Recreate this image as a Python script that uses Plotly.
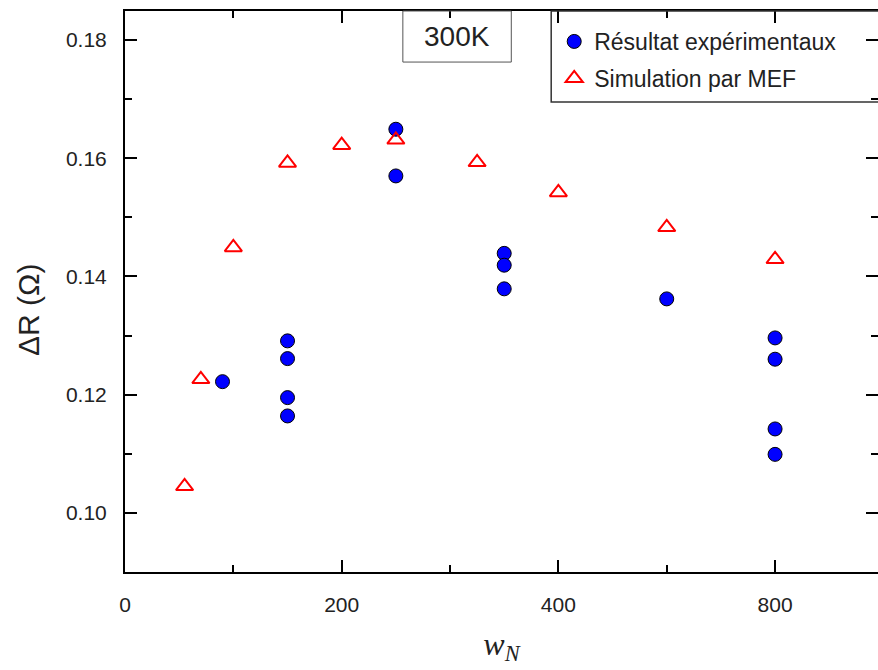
import plotly.graph_objects as go

# ---- data ----
exp_w = [90, 150, 150, 150, 150, 250, 250, 350, 350, 350, 500, 800, 800, 800, 800]
exp_dr = [0.1222, 0.1291, 0.1261, 0.1195, 0.1164, 0.1649, 0.1570,
          0.1439, 0.1419, 0.1379, 0.1362, 0.1296, 0.1260, 0.1142, 0.1099]

sim_w = [55, 70, 100, 150, 200, 250, 325, 400, 500, 800]
sim_dr = [0.1045, 0.1226, 0.1449, 0.1592, 0.1622, 0.1631, 0.1593, 0.1542, 0.1483, 0.1429]

x_tick_vals = [0, 200, 400, 800]
x_minor_vals = [100, 300, 500]

# broken x axis: the value 800 is drawn at the 600 position
BREAK_FROM, BREAK_TO = 800, 600
def pos(v):
    return BREAK_TO if v == BREAK_FROM else v

FONT = "Liberation Sans, Arial, sans-serif"

fig = go.Figure()
fig.add_trace(go.Scatter(
    x=[pos(v) for v in exp_w], y=exp_dr, mode="markers",
    name="Résultat expérimentaux", legendgroup="exp",
    marker=dict(symbol="circle", size=14, color="#0000ff",
                line=dict(color="#000000", width=1)),
))
fig.add_trace(go.Scatter(
    x=[pos(v) for v in sim_w], y=sim_dr, mode="markers",
    name="Simulation par MEF", legendgroup="sim",
    marker=dict(symbol="triangle-up-open", size=15, color="#ff0000",
                line=dict(color="#ff0000", width=2)),
))

axis_common = dict(
    showline=True, linecolor="#000000", linewidth=2, mirror="ticks",
    ticks="inside", ticklen=12, tickwidth=2, tickcolor="#000000",
    showgrid=False, zeroline=False, automargin=False,
    tickfont=dict(family=FONT, size=21, color="#222222"),
)

fig.update_xaxes(
    range=[0, 695],
    tickvals=[pos(v) for v in x_tick_vals],
    ticktext=[str(v) for v in x_tick_vals],
    minor=dict(tickvals=x_minor_vals, ticks="inside", ticklen=7,
               tickwidth=2, tickcolor="#000000"),
    ticklabelstandoff=13,
    title=dict(text="<i>w</i><sub><i>N</i></sub>",
               font=dict(family="Liberation Serif, DejaVu Serif, serif", size=32, color="#222222"),
               standoff=17),
    **axis_common,
)
fig.update_yaxes(
    range=[0.09, 0.1849],
    tick0=0.10, dtick=0.02, tickformat=".2f",
    minor=dict(dtick=0.01, tick0=0.10, ticks="inside", ticklen=7,
               tickwidth=2, tickcolor="#000000"),
    ticklabelstandoff=12,
    **axis_common,
)

fig.update_layout(
    width=878, height=670,
    margin=dict(l=125, r=0, t=11, b=98),
    paper_bgcolor="white", plot_bgcolor="white",
    showlegend=True,
    legend=dict(x=0.570, y=0.984, xanchor="left", yanchor="top",
                bgcolor="rgba(0,0,0,0)", borderwidth=0,
                font=dict(family=FONT, size=23, color="#222222"),
                itemwidth=30, tracegroupgap=4),
    shapes=[
        dict(type="rect", xref="paper", yref="paper",
             x0=0.566, x1=1.05, y0=0.838, y1=1.0,
             line=dict(color="#333333", width=1.5), fillcolor="rgba(0,0,0,0)"),
        dict(type="rect", xref="paper", yref="paper",
             x0=0.369, x1=0.513, y0=0.909, y1=1.0,
             line=dict(color="#555555", width=1), fillcolor="rgba(0,0,0,0)"),
    ],
    annotations=[
        dict(text="300K", xref="paper", yref="paper", x=0.441, y=0.954,
             xanchor="center", yanchor="middle", showarrow=False,
             font=dict(family=FONT, size=28, color="#222222")),
        dict(text="ΔR (Ω)", xref="paper", yref="paper", x=-0.1288, y=0.467,
             xanchor="center", yanchor="middle", showarrow=False, textangle=-90,
             font=dict(family=FONT, size=30, color="#222222")),
    ],
)

fig.write_html("out.html",
               config={"displayModeBar": False},
               post_script="document.body.style.margin='0';document.body.style.overflow='hidden';")
